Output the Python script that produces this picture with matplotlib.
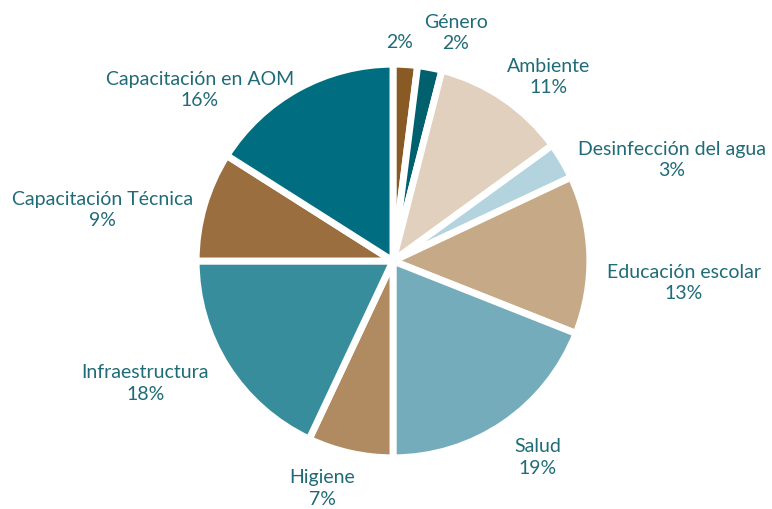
import matplotlib.pyplot as plt
import numpy as np

# Datos
categorias = ['', 'Género', 'Ambiente', 'Desinfección del agua', 'Educación escolar',
              'Salud', 'Higiene', 'Infraestructura', 'Capacitación Técnica',
              'Capacitación en AOM']
porcentajes = [2, 2, 11, 3, 13, 19, 7, 18, 9, 16]
colores = ['#8a5a24', '#00606e', '#e0d0bd', '#b3d3de', '#c6a986',
           '#74acbb', '#b08a60', '#378d9c', '#9a6e3e', '#006e80']

# Posición de etiquetas: distancia radial y ajuste de ángulo (grados)
dist_etiqueta = [1.14, 1.23, 1.25, 1.54, 1.51, 1.26, 1.23, 1.43, 1.53, 1.34]
ajuste_angulo = [1.8, -4.6, -5.8, -10.5, -5.9, 2.3, -4.8, -6.3, 6.0, 19.5]

color_texto = '#1f6b78'

fig = plt.figure(figsize=(7.72, 5.10), dpi=100)
ax = fig.add_axes([0, 0, 1, 1])

radio_px = 193.0
wedges, _ = ax.pie(porcentajes, colors=colores, startangle=90, counterclock=False,
                   radius=1.02, wedgeprops=dict(edgecolor='white', linewidth=5))

for w, cat, pct, d, da in zip(wedges, categorias, porcentajes, dist_etiqueta, ajuste_angulo):
    ang = np.deg2rad((w.theta1 + w.theta2) / 2 + da)
    texto = f'{cat}\n{pct}%' if cat else f'{pct}%'
    ax.text(d * np.cos(ang), d * np.sin(ang), texto, ha='center', va='center',
            multialignment='center', color=color_texto, fontsize=14,
            family='Lato', linespacing=1.3)

ax.set_xlim(-393 / radio_px, (772 - 393) / radio_px)
ax.set_ylim(-(510 - 262) / radio_px, 262 / radio_px)
ax.set_aspect('equal')
ax.axis('off')

fig.savefig('out.png', dpi=100)
